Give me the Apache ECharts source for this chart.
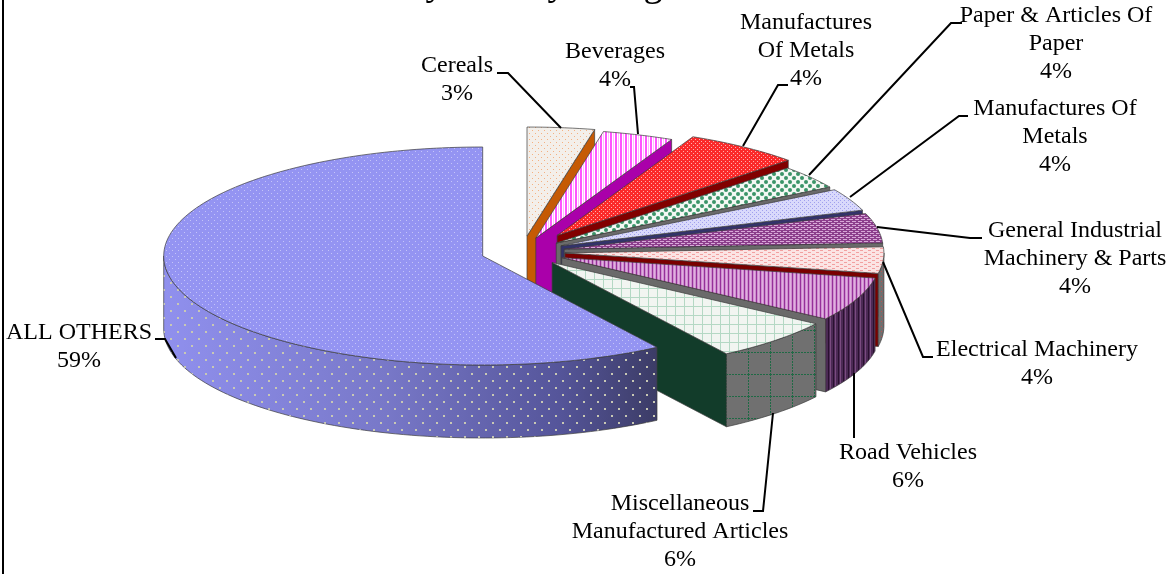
<!DOCTYPE html>
<html>
<head>
<meta charset="utf-8">
<style>
  html, body { margin: 0; padding: 0; background: #fff; }
  #chart { width: 1173px; height: 574px; }
</style>
<script src="https://cdn.jsdelivr.net/npm/echarts@6/dist/echarts.min.js"></script>
</head>
<body>
<div id="chart"></div>
<script>
// slice shares (the printed labels are rounded and kept apart)
const categories = ["Cereals", "Beverages", "Manufactures Of Metals", "Paper & Articles Of Paper", "Manufactures Of Metals", "General Industrial Machinery & Parts", "Electrical Machinery", "Road Vehicles", "Miscellaneous Manufactured Articles", "ALL OTHERS"];
const shares = [3.4, 3.6, 5.9, 3.5, 3.3, 4.4, 3.9, 6.5, 6.3, 59.2];
const printedPct = ["3%", "4%", "4%", "4%", "4%", "4%", "4%", "6%", "6%", "59%"];
const labelLines = [["Cereals"], ["Beverages"], ["Manufactures", "Of Metals"], ["Paper & Articles Of", "Paper"], ["Manufactures Of", "Metals"], ["General Industrial", "Machinery & Parts"], ["Electrical Machinery"], ["Road Vehicles"], ["Miscellaneous", "Manufactured Articles"], ["ALL OTHERS"]];
const titleTail = ["y", "y", "g"];

// layout of the tilted pie
const center = [522, 252];
const rx = 319, ry = 109, depth = 73;
const explode = [47, 43, 60, 43, 43, 43, 43, 43, 43, 41];

// label block centres (x, y of first line) and leader lines
const labelAt = [[457, 66], [615, 52], [806, 23], [1056, 16], [1055, 109], [1075, 231], [1037, 350], [908, 453], [680, 504], [79, 333]];
const leaders = [
  [[497, 73], [508, 73], [561, 128]],
  [[630, 87], [634, 87], [638, 134]],
  [[788, 85], [778, 85], [743, 146]],
  [[962, 23], [951, 23], [809, 175]],
  [[968, 116], [959, 116], [850, 197]],
  [[982, 238], [970, 238], [877, 227]],
  [[933, 357], [923, 357], [883, 262]],
  [[854, 373], [854, 438]],
  [[753, 511], [763, 511], [773, 413]],
  [[155, 339], [165, 339], [176, 358]]
];
const titleAt = [[435, 4], [557, 4], [653, 5]];

const font = '"Liberation Serif", serif';

function tile(w, h, bg, draw) {
  const c = document.createElement("canvas");
  c.width = w; c.height = h;
  const g = c.getContext("2d");
  if (bg) { g.fillStyle = bg; g.fillRect(0, 0, w, h); }
  draw(g);
  return { image: c, repeat: "repeat" };
}
function dots(w, h, bg, col, pts, s) {
  return tile(w, h, bg, g => { g.fillStyle = col; pts.forEach(p => g.fillRect(p[0], p[1], s || 1, s || 1)); });
}

const topFill = [
  dots(6, 6, "#f3efea", "#f4b183", [[1, 1], [4, 4]]),
  tile(5, 4, "#ffffff", g => { g.fillStyle = "#ff55ff"; g.fillRect(0, 0, 2, 4); g.fillStyle = "#ffbbff"; g.fillRect(3, 0, 1, 4); }),
  dots(4, 4, "#fb2a2a", "#ffb0b0", [[1, 1], [3, 3]]),
  tile(8, 8, "#f4f8f4", g => {
    g.fillStyle = "#3a9468";
    [[2, 2], [6, 6]].forEach(p => { g.beginPath(); g.arc(p[0], p[1], 2, 0, Math.PI * 2); g.fill(); });
  }),
  dots(4, 4, "#d9d9fb", "#a0a0ee", [[0, 0], [2, 2]]),
  tile(6, 4, "#8c3f8c", g => { g.fillStyle = "#d8a8d8"; g.fillRect(0, 1, 4, 1); g.fillRect(3, 3, 3, 1); g.fillRect(0, 3, 1, 1); }),
  tile(8, 4, "#fbe4e4", g => { g.fillStyle = "#f2a0a0"; g.fillRect(0, 0, 3, 1); g.fillRect(4, 2, 3, 1); }),
  tile(4, 4, "#cf8fcf", g => { g.fillStyle = "#96309a"; g.fillRect(0, 0, 1, 4); g.fillStyle = "#e0b0e0"; g.fillRect(2, 0, 1, 4); }),
  tile(9, 9, "#f1f5f1", g => { g.fillStyle = "#b4d8c4"; g.fillRect(0, 0, 9, 1); g.fillRect(0, 0, 1, 9); }),
  dots(6, 6, "#9494f2", "#c4c4f8", [[1, 1], [4, 4]])
];
// colour of the radial cut wall of each slice
const cutWall = ["#c55a04", "#aa00aa", "#820000", "#6a6a6a", "#33336a", "#6a6a6a", "#7a0000", "#6a6a6a", "#123c2a", "#6a6a6a"];
// colour of the outer rim wall of each slice
const rimFill = [
  "#999", "#999", "#999", "#999", "#999", "#999",
  dots(5, 5, "#6f6f6f", "#c05050", [[1, 1], [3, 3]]),
  tile(5, 4, "#4c2a55", g => { g.fillStyle = "#7a4a80"; g.fillRect(0, 0, 1, 4); g.fillStyle = "#2a1030"; g.fillRect(3, 0, 1, 4); }),
  tile(22, 22, "#707070", g => { g.fillStyle = "#1f6a45"; for (let i = 0; i < 22; i += 3) { g.fillRect(i, 0, 2, 1); g.fillRect(0, i, 1, 2); } }),
  { type: "linear", x: 0, y: 0, x2: 1, y2: 0, colorStops: [{ offset: 0, color: "#9090ee" }, { offset: 0.45, color: "#7878c8" }, { offset: 0.8, color: "#55559a" }, { offset: 1, color: "#3c3c66" }] }
];
const rimOverlay = dots(14, 14, null, "#c8c8b4", [[2, 2], [9, 9]], 2);

const total = shares.reduce((a, b) => a + b, 0);
let running = 0;
const rows = shares.map((v, i) => {
  const from = echarts.number.linearMap(running, [0, total], [0, 360]);
  running += v;
  return [from, echarts.number.linearMap(running, [0, total], [0, 360]), i];
});

const rad = d => d * Math.PI / 180;
function renderSlice(params, api) {
  const a0 = api.value(0), a1 = api.value(1), i = api.value(2);
  const mid = rad((a0 + a1) / 2);
  const ox = center[0] + explode[i] * Math.sin(mid);
  const oy = center[1] - explode[i] * Math.cos(mid) * ry / rx;
  const at = (deg, dz) => [ox + rx * Math.sin(rad(deg)), oy - ry * Math.cos(rad(deg)) + (dz || 0)];
  const arc = (from, to, dz) => {
    const out = [];
    const n = Math.max(2, Math.ceil((to - from) / 1.5));
    for (let k = 0; k <= n; k++) out.push(at(from + (to - from) * k / n, dz));
    return out;
  };
  const children = [];
  const edge = { stroke: "#3c3c3c", lineWidth: 0.7 };
  // radial wall on the closing side, only faces us when it closes before the back
  if (a1 < 180) {
    const tip = at(a1), tipLow = at(a1, depth);
    children.push({
      type: "polygon",
      shape: { points: [[ox, oy], tip, tipLow, [ox, oy + depth]] },
      style: Object.assign({ fill: cutWall[i] }, edge)
    });
  }
  // rim wall on the front half
  const r0 = Math.max(a0, 90), r1 = Math.min(a1, 270);
  if (r1 > r0) {
    const pts = arc(r0, r1, 0).concat(arc(r0, r1, depth).reverse());
    children.push({ type: "polygon", shape: { points: pts }, style: Object.assign({ fill: rimFill[i] }, edge) });
    if (i === shares.length - 1) {
      children.push({ type: "polygon", shape: { points: pts }, style: { fill: rimOverlay } });
    }
  }
  // top face
  children.push({
    type: "polygon",
    shape: { points: [[ox, oy]].concat(arc(a0, a1, 0)) },
    style: Object.assign({ fill: topFill[i] }, edge)
  });
  return { type: "group", children: children };
}

const overlay = [];
// the frame only shows on the left in the reference
overlay.push({ type: "line", shape: { x1: 3, y1: 0, x2: 3, y2: 574 }, style: { stroke: "#000", lineWidth: 2 }, z: 120 });
titleTail.forEach((ch, i) => {
  overlay.push({
    type: "text", x: titleAt[i][0], y: titleAt[i][1], z: 110,
    style: { text: ch, font: "38px " + font, fill: "#000", align: "center", verticalAlign: "bottom" }
  });
});
labelLines.forEach((lines, i) => {
  overlay.push({
    type: "text", x: labelAt[i][0], y: labelAt[i][1] - 14, z: 110,
    style: {
      text: lines.concat(printedPct[i]).join("\n"),
      font: "24px " + font, lineHeight: 28, fill: "#000",
      align: "center", verticalAlign: "top"
    }
  });
  overlay.push({
    type: "polyline", z: 105, shape: { points: leaders[i] },
    style: { fill: "none", stroke: "#000", lineWidth: 2 }
  });
});

const chart = echarts.init(document.getElementById("chart"));
chart.setOption({
  animation: false,
  backgroundColor: "#fff",
  tooltip: { show: false },
  series: [{
    type: "custom",
    coordinateSystem: "none",
    renderItem: renderSlice,
    data: rows,
    silent: true
  }],
  graphic: { elements: overlay }
});
</script>
</body>
</html>
